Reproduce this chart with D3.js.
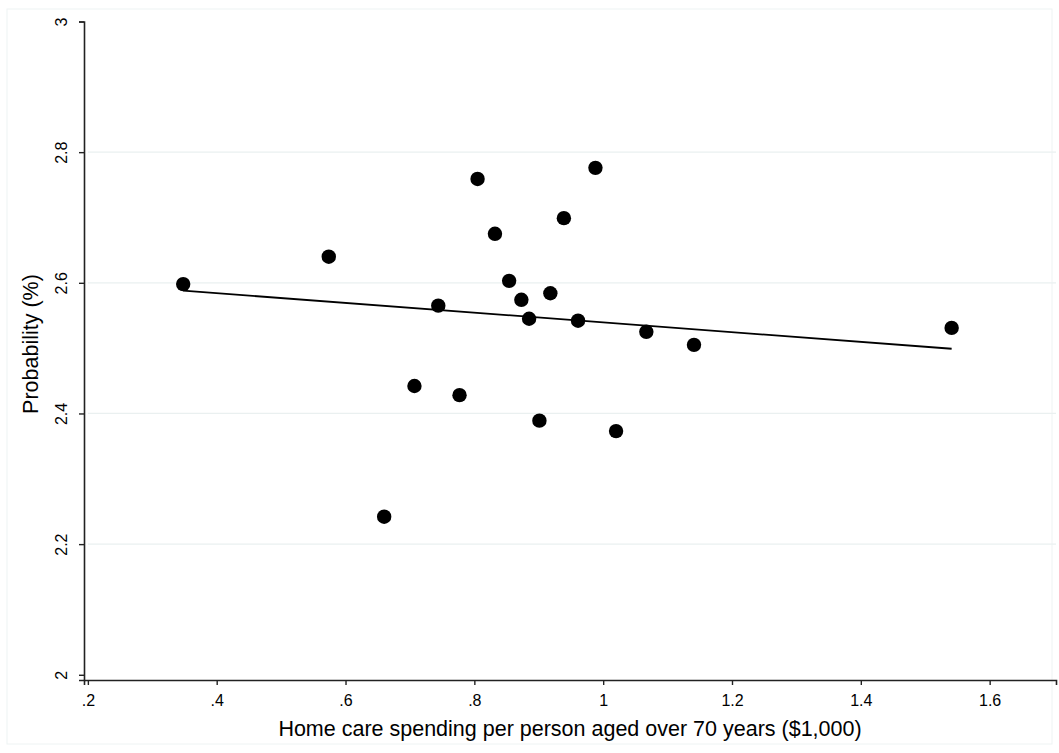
<!DOCTYPE html>
<html>
<head>
<meta charset="utf-8">
<script src="https://cdn.jsdelivr.net/npm/d3@7"></script>
<style>
  body { margin: 0; background: #fff; }
  text { font-family: "Liberation Sans", Arial, sans-serif; fill: #000; }
</style>
</head>
<body>
<svg id="chart" width="1059" height="753"></svg>
<script>
// home care spending per person aged over 70 ($1,000)
var spending = [0.348, 0.574, 0.660, 0.707, 0.744, 0.777, 0.805, 0.832, 0.854, 0.873,
                0.885, 0.901, 0.918, 0.939, 0.961, 0.988, 1.020, 1.067, 1.141, 1.541];
// probability (%)
var probability = [2.598, 2.640, 2.242, 2.442, 2.565, 2.428, 2.759, 2.675, 2.603, 2.574,
                   2.545, 2.389, 2.584, 2.699, 2.542, 2.776, 2.373, 2.525, 2.505, 2.531];
// fitted line (weighted fit)
var fitIntercept = 2.614;
var fitSlope = -0.0746;
var xTicks = [0.2, 0.4, 0.6, 0.8, 1.0, 1.2, 1.4, 1.6];
var yTicks = [2, 2.2, 2.4, 2.6, 2.8, 3];
var gridTicks = [2.2, 2.4, 2.6, 2.8];

var svg = d3.select('#chart');

// faint outer frame
svg.append('rect')
    .attr('x', 7).attr('y', 9)
    .attr('width', 1059 - 14).attr('height', 753 - 18)
    .style('fill', 'none')
    .style('stroke', '#eef3f3')
    .style('stroke-width', 1);

var x = d3.scaleLinear().domain([0.194, 1.703]).range([84, 1056]);
var y = d3.scaleLinear().domain([1.992, 3]).range([680, 21.5]);

function fmt(v) {
    var s = d3.format('~g')(+v.toFixed(2));
    return s.replace(/^0\./, '.');
}

// gridlines
svg.append('g').selectAll('line')
    .data(gridTicks)
    .enter().append('line')
    .attr('x1', 88).attr('x2', 1056)
    .attr('y1', function(d) { return y(d); })
    .attr('y2', function(d) { return y(d); })
    .style('stroke', '#eaf0f0')
    .style('stroke-width', 1.2);

// x axis
var xAxis = svg.append('g')
    .attr('transform', 'translate(0,680)')
    .call(d3.axisBottom(x).tickValues(xTicks).tickSize(5).tickFormat(fmt));
xAxis.select('.domain').style('stroke', '#222').style('stroke-width', 1.6);
xAxis.selectAll('.tick line').style('stroke', '#222').style('stroke-width', 1.4);
xAxis.selectAll('.tick text')
    .attr('y', 25.5).attr('dy', 0)
    .style('font-size', '16px')
    .style('font-family', '"Liberation Sans", Arial, sans-serif');

// y axis
var yAxis = svg.append('g')
    .attr('transform', 'translate(84,0)')
    .call(d3.axisLeft(y).tickValues(yTicks).tickSize(5).tickFormat(fmt));
yAxis.select('.domain').style('stroke', '#222').style('stroke-width', 1.6);
yAxis.selectAll('.tick line').style('stroke', '#222').style('stroke-width', 1.4);
yAxis.selectAll('.tick text')
    .attr('x', 0).attr('dy', 0)
    .attr('transform', 'translate(-17,0) rotate(-90)')
    .style('text-anchor', 'middle')
    .style('font-size', '16px')
    .style('font-family', '"Liberation Sans", Arial, sans-serif');

// axis titles
svg.append('text')
    .attr('x', 570).attr('y', 735.5)
    .style('text-anchor', 'middle')
    .style('font-size', '21.5px')
    .text('Home care spending per person aged over 70 years ($1,000)');

svg.append('text')
    .attr('transform', 'translate(38,344) rotate(-90)')
    .style('text-anchor', 'middle')
    .style('font-size', '21.5px')
    .text('Probability (%)');

// fitted line across the range of the data
var xr = d3.extent(spending);
svg.append('line')
    .attr('x1', x(xr[0])).attr('y1', y(fitIntercept + fitSlope * xr[0]))
    .attr('x2', x(xr[1])).attr('y2', y(fitIntercept + fitSlope * xr[1]))
    .style('stroke', '#000')
    .style('stroke-width', 1.8);

// points
svg.append('g').selectAll('circle')
    .data(spending)
    .enter().append('circle')
    .attr('cx', function(d) { return x(d); })
    .attr('cy', function(d, i) { return y(probability[i]); })
    .attr('r', 7.2)
    .style('fill', '#000');
</script>
</body>
</html>
